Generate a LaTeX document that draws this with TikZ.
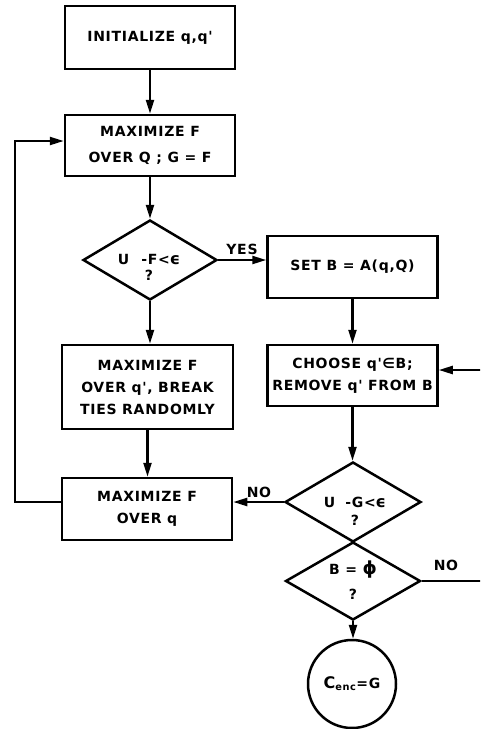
\documentclass[tikz,border=0pt]{standalone}
\usepackage{fontspec}
\setmainfont{DejaVu Sans}
\newfontfamily\lblfont{DejaVu Sans Bold}[LetterSpace=5]
\newcommand\flowfont{\lblfont\fontsize{14}{22}\selectfont}
\usetikzlibrary{shapes.geometric,arrows.meta}
\begin{document}
\begin{tikzpicture}[x=1pt,y=-1pt,
  box/.style={draw, line width=2.5pt, minimum width=170pt, minimum height=62pt, inner sep=0pt, align=center, font=\flowfont},
  dia/.style={draw, diamond, line width=2.5pt, inner sep=0pt, minimum width=134pt, minimum height=80pt},
  txt/.style={inner sep=0pt, align=center, font=\flowfont},
  arr/.style={line width=2.3pt, -{Triangle[length=14pt,width=8pt]}},
  ln/.style={line width=2.3pt}]
\useasboundingbox (0,0) rectangle (480,729);
\clip (0,0) rectangle (480,729);
\node[box, minimum height=63pt] (init) at (150,37.5) {INITIALIZE q,q'};
\node[box, minimum height=61pt, font=\lblfont\fontsize{14}{26}\selectfont] (maxQ) at (150,145.5) {MAXIMIZE F\\OVER Q ; G = F};
\node[dia] (d1) at (150,260) {};
\node[txt, font=\lblfont\fontsize{14}{16}\selectfont] (d1t) at (149,267) {U\hspace{12pt}-F<{\fontsize{16}{16}\selectfont ϵ}\\?};
\node[box] (setB) at (352.5,267) {SET B = A(q,Q)};
\node[box, minimum height=61pt] (choose) at (352.5,375.5) {CHOOSE q'∈B;\\REMOVE q' FROM B};
\node[box, minimum width=171pt, minimum height=84pt] (maxqp) at (147.5,387) {MAXIMIZE F\\OVER q', BREAK\\TIES RANDOMLY};
\node[box] (maxq) at (147,509) {MAXIMIZE F\\OVER q};
\node[dia, minimum width=136pt] (d2) at (353,502) {};
\node[txt, font=\lblfont\fontsize{14}{18}\selectfont] (d2t) at (355,511) {U\hspace{10pt}-G<{\fontsize{16}{16}\selectfont ϵ}\\?};
\node[dia, minimum width=135pt, minimum height=78pt] (d3) at (353,581) {};
\node[txt, font=\lblfont\fontsize{14}{25}\selectfont] (d3t) at (353,580) {B = {\fontsize{18}{18}\selectfont ϕ}\\?};
\node[draw, circle, line width=2.5pt, minimum size=88pt, inner sep=0pt, font=\flowfont] (end) at (352,684) {{\fontsize{16}{16}\selectfont C}\textsubscript{enc}=G};
% connectors
\draw[arr] (init) -- (maxQ);
\draw[arr] (maxQ) -- (d1);
\draw[arr] (d1.east) -- (setB.west |- d1.east);
\node[txt] (yes) at (242,249) {YES};
\draw[arr] (setB.south) -- (setB.south |- choose.north);
\draw[arr] (d1.south) -- (d1.south |- maxqp.north);
\draw[arr] (maxqp.south) -- (maxqp.south |- maxq.north);
\draw[arr] (choose.south) -- (choose.south |- d2.north);
\draw[arr] (d2.west) -- (maxq.east |- d2.west);
\node[txt] (no1) at (259,492) {NO};
\coordinate (lft) at (15,502);
\draw[arr] ([yshift=7pt]maxq.west) -- (lft) |- ([yshift=4.5pt]maxQ.west);
\draw[arr] (d3.south) -- (d3.south |- end.north);
\coordinate (rgt) at (484,581);
\draw[arr] (d3.east) -- (rgt) |- ([yshift=5.5pt]choose.east);
\node[txt] (no2) at (446,565) {NO};
\end{tikzpicture}
\end{document}
